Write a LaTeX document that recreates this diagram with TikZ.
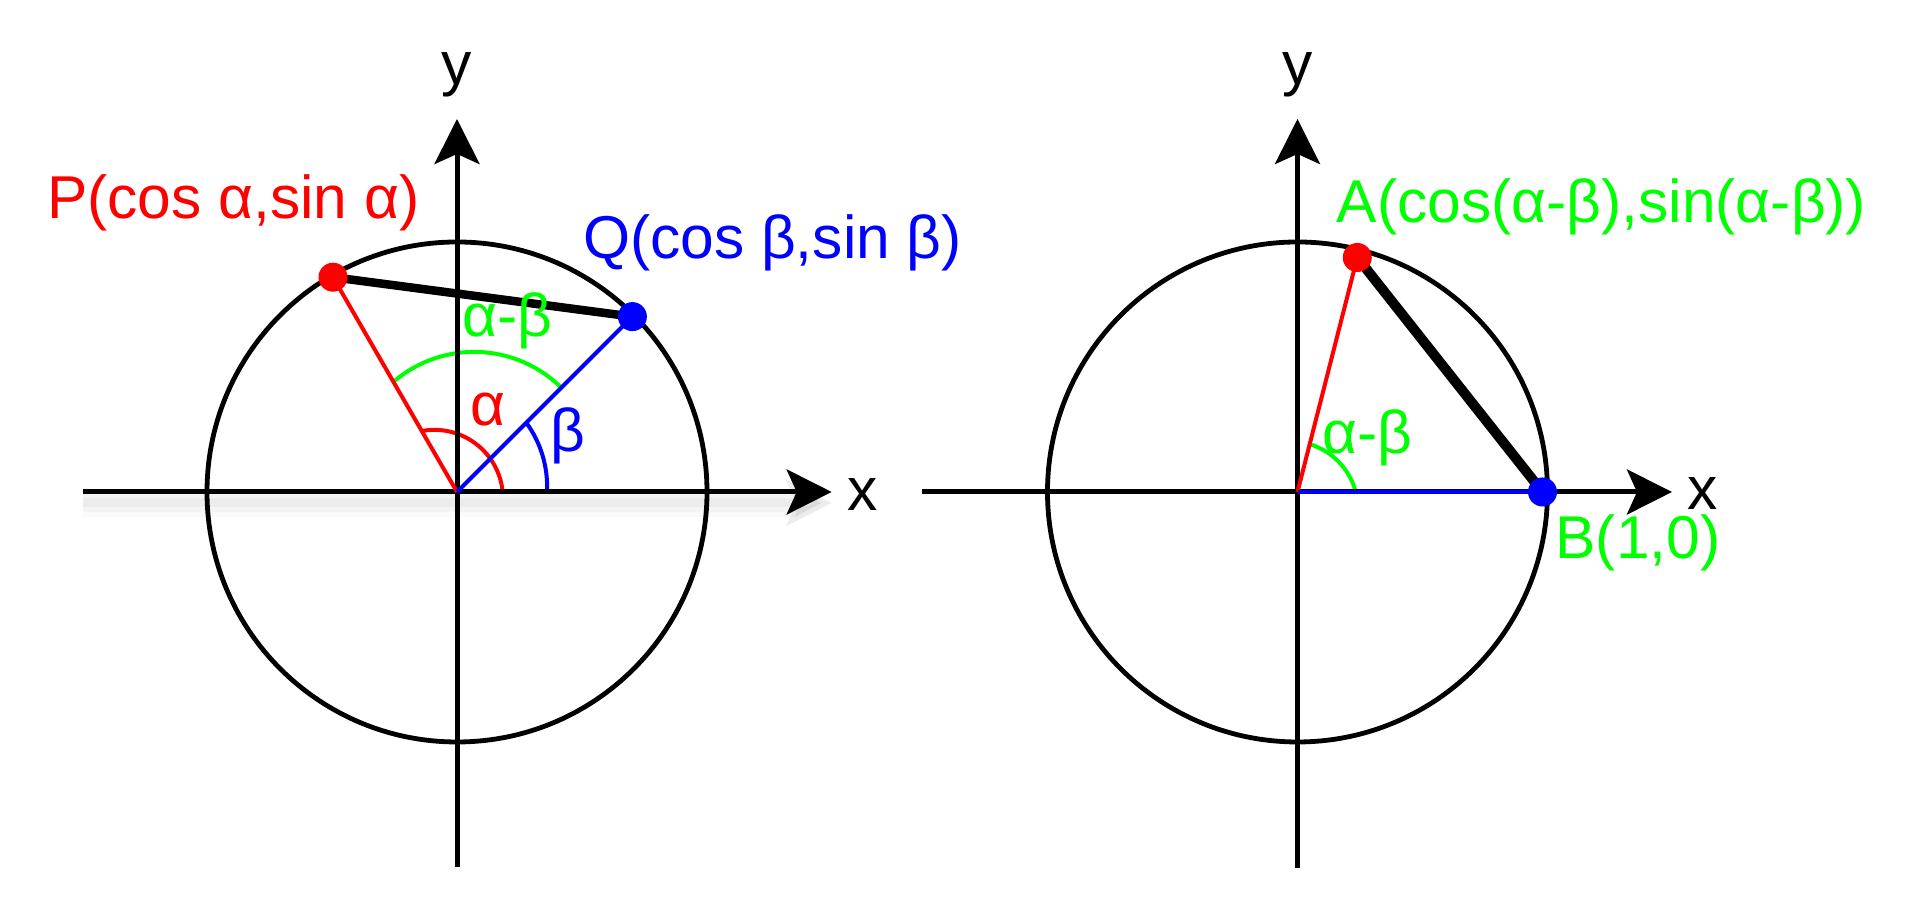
\documentclass[tikz,border=0pt]{standalone}
\usepackage{fontspec}
\setmainfont{Liberation Sans}
\usepackage{tikz}
\usetikzlibrary{arrows.meta}
\definecolor{Ink}{HTML}{000000}
\definecolor{AlphaRed}{HTML}{FF0000}
\definecolor{BetaBlue}{HTML}{0000FF}
\definecolor{DiffGreen}{HTML}{00FF00}
\tikzset{
  axisline/.style={line width=0.05cm,draw=Ink},
  axisarrow/.style={axisline,-{Stealth[length=0.45cm,width=0.45cm,inset=0.1cm]}},
  unitcircle/.style={line width=0.048cm,draw=Ink},
  chord/.style={line width=0.085cm,draw=Ink},
  ray/.style={line width=0.04cm},
  anglearc/.style={line width=0.04cm},
  dot/.style={circle,inner sep=0pt,minimum size=0.29cm},
  lbl/.style={inner sep=0pt,font=\fontsize{17.2pt}{20pt}\selectfont}
}

\begin{document}
\begin{tikzpicture}[x=0.01cm,y=0.01cm]
\path[use as bounding box] (0,0) rectangle (1905,910);
% left circle: P and Q
\begin{scope}[shift={(457,418)}]
\coordinate (o1) at (0,0);
\coordinate (xa1) at (-374,0); \coordinate (xb1) at (374.7,0);
\coordinate (ya1) at (0,-375); \coordinate (yb1) at (0,373);
\coordinate (p) at (120:248); \coordinate (q) at (45:248);
\foreach \w/\o in {0.28/0.02,0.18/0.025,0.09/0.03}{\draw[line width=\w cm,draw=Ink,opacity=\o,-{Stealth[length=0.45cm,width=0.45cm,inset=0.1cm]}] ([yshift=-0.11cm]xa1)--([yshift=-0.11cm]xb1);}
\draw[unitcircle] (o1) circle[radius=250];
\draw[anglearc,DiffGreen] (104.3,104.3) arc[start angle=45.3,end angle=130.7,radius=123.8];
\draw[anglearc,AlphaRed] (45.7,0) arc[start angle=5.4,end angle=100.6,radius=68.6];
\draw[anglearc,BetaBlue] (90,0) arc[start angle=-2.8,end angle=36.1,radius=108.6];
\draw[axisarrow] (xa1)--(xb1); \draw[axisarrow] (ya1)--(yb1);
\draw[ray,AlphaRed] (o1)--(p); \draw[ray,BetaBlue] (o1)--(q);
\draw[chord] (p)--(q);
\node[dot,fill=AlphaRed] (pdot) at (p) {}; \node[dot,fill=BetaBlue] (qdot) at (q) {};
\end{scope}
% right circle: A and B
\begin{scope}[shift={(1297.5,418)}]
\coordinate (o2) at (0,0);
\coordinate (xa2) at (-375.5,0); \coordinate (xb2) at (374.5,0);
\coordinate (ya2) at (0,-376); \coordinate (yb2) at (0,373);
\coordinate (a) at (75.7:242); \coordinate (b) at (0:245);
\draw[unitcircle] (o2) circle[radius=250];
\draw[anglearc,DiffGreen] (58.3,0) arc[start angle=14.9,end angle=72.9,radius=68.5];
\draw[axisarrow] (xa2)--(xb2); \draw[axisarrow] (ya2)--(yb2);
\draw[ray,AlphaRed] (o2)--(a); \draw[ray,BetaBlue] (o2)--(b);
\draw[chord,line width=0.1cm] (a)--(b);
\node[dot,fill=AlphaRed] (adot) at (a) {}; \node[dot,fill=BetaBlue] (bdot) at (b) {};
\end{scope}
% labels
\node[lbl] (ylab1) at (457,835) {y};
\node[lbl] (xlab1) at (862.5,415.3) {x};
\node[lbl] (ylab2) at (1297.5,835) {y};
\node[lbl] (xlab2) at (1703,416.5) {x};
\node[lbl,AlphaRed] (plab) at (233.3,707.5) {P(cos α,sin α)};
\node[lbl,BetaBlue] (qlab) at (772.5,667.5) {Q(cos β,sin β)};
\node[lbl,AlphaRed] (alphalab) at (487.7,500) {α};
\node[lbl,BetaBlue] (betalab) at (568.3,474.2) {β};
\node[lbl,DiffGreen] (difflab1) at (507.2,589.2) {α-β};
\node[lbl,DiffGreen] (alab) at (1601.5,702.7) {A(cos(α-β),sin(α-β))};
\node[lbl,DiffGreen] (blab) at (1638,366.7) {B(1,0)};
\node[lbl,DiffGreen] (difflab2) at (1367,472.5) {α-β};
\end{tikzpicture}
\end{document}
